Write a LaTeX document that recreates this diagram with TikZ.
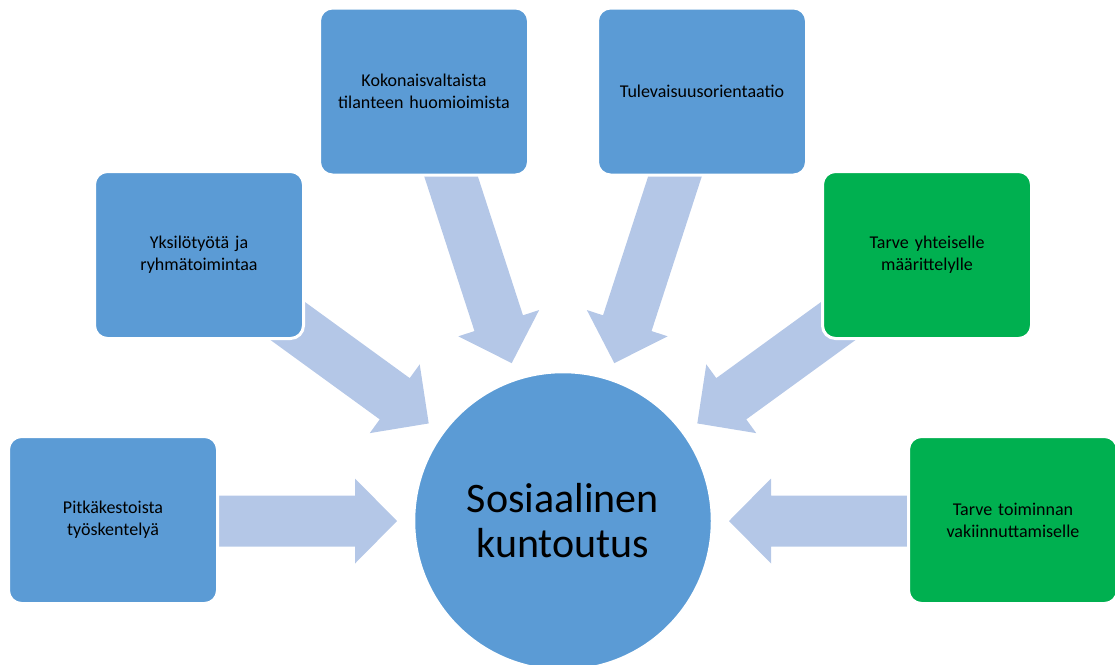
\documentclass[tikz,border=0pt]{standalone}
\usepackage{fontspec}
\setmainfont{Carlito}
\definecolor{boxblue}{HTML}{5B9BD5}
\definecolor{boxgreen}{HTML}{00B050}
\definecolor{arrowblue}{HTML}{B4C7E7}
\begin{document}
\begin{tikzpicture}[x=1pt,y=-1pt,
  boxnode/.style={rectangle, rounded corners=13pt, draw=white, line width=3pt,
    minimum width=209pt, minimum height=167pt, inner sep=4pt, align=center,
    text width=196pt, font=\fontsize{18}{22}\selectfont, text=black},
  bluebox/.style={boxnode, fill=boxblue},
  greenbox/.style={boxnode, fill=boxgreen},
  hubnode/.style={circle, fill=boxblue, draw=white, line width=1.5pt,
    minimum size=297pt, inner sep=0pt, align=center,
    font=\fontsize{42}{45}\selectfont, text=black},
  blockarrow/.style={fill=arrowblue, draw=none}]
\useasboundingbox (0,0) rectangle (1115,664);
\coordinate (hubc) at (563,521);
% converging block arrows (drawn under the boxes and the hub)
\foreach \ang in {180,144,108,72,36,0}{
  \begin{scope}[shift={(hubc)}, rotate=\ang]
    \fill[blockarrow] (400,25.5) -- (208,25.5) -- (208,42.5) -- (166,0)
      -- (208,-42.5) -- (208,-25.5) -- (400,-25.5) -- cycle;
  \end{scope}
}
% hub
\node[hubnode] (hub) at (hubc) {Sosiaalinen\\kuntoutus};
% boxes
\node[bluebox] (b1) at (113,520) {Pitkäkestoista\\työskentelyä};
\node[bluebox] (b2) at (199,255) {Yksilötyötä ja\\ryhmätoimintaa};
\node[bluebox] (b3) at (424,91.5) {Kokonaisvaltaista\\tilanteen huomioimista};
\node[bluebox] (b4) at (702,91.5) {Tulevaisuusorientaatio};
\node[greenbox] (b5) at (927,255) {Tarve yhteiselle\\määrittelylle};
\node[greenbox] (b6) at (1013,520) {Tarve toiminnan\\vakiinnuttamiselle};
\end{tikzpicture}
\end{document}
